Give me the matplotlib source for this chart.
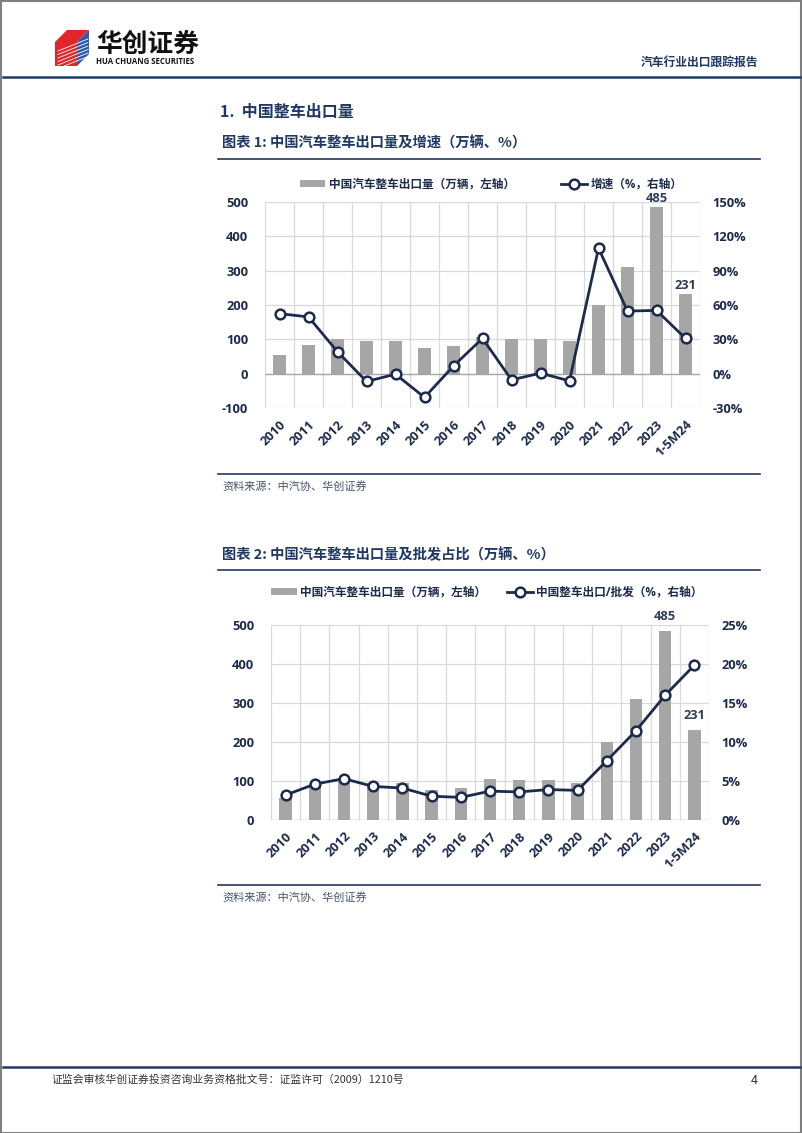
import numpy as np
import matplotlib
matplotlib.use("Agg")
import matplotlib.pyplot as plt
from matplotlib.patches import Polygon, Rectangle
from matplotlib.lines import Line2D

plt.rcParams['font.family'] = ['Open Sans', 'Noto Sans CJK SC', 'DejaVu Sans']
plt.rcParams['axes.unicode_minus'] = False

# data
categories = ['2010', '2011', '2012', '2013', '2014', '2015', '2016', '2017',
              '2018', '2019', '2020', '2021', '2022', '2023', '1-5M24']
exports = [56, 85, 100, 95, 95, 76, 81, 106, 102, 102, 95, 200, 311, 485, 231]
growth = [52.5, 49.6, 19.3, -6.6, -0.3, -20.5, 6.9, 30.9, -5.2, 0.6, -6.1,
          109.5, 54.7, 55.3, 30.9]
export_share = [3.2, 4.6, 5.3, 4.3, 4.1, 3.05, 2.9, 3.7, 3.6, 3.9, 3.8,
                7.6, 11.45, 16.0, 19.85]
labelled = ['2023', '1-5M24']

bar_label = '中国汽车整车出口量（万辆，左轴）'
line1_label = '增速（%，右轴）'
line2_label = '中国整车出口/批发（%，右轴）'

W, H = 802, 1133
NAVY = '#1C2B4B'
TITLE = '#1F3864'
BAR = '#A6A6A6'
GRID = '#D9D9D9'

fig = plt.figure(figsize=(W / 100, H / 100), dpi=100)


def box(l, t, r, b):
    return [l / W, 1 - b / H, (r - l) / W, (b - t) / H]


def fx(x):
    return x / W


def fy(y):
    return 1 - y / H


def page_text(x, y, s, **kw):
    kw.setdefault('family', ['Noto Sans CJK SC', 'DejaVu Sans'])
    fig.text(fx(x), fy(y), s, va='center', **kw)


def hline(x0, x1, y, color=TITLE, lw=1.2):
    fig.add_artist(Line2D([fx(x0), fx(x1)], [fy(y), fy(y)], color=color, lw=lw))


# page frame
fig.add_artist(Rectangle((0.5 / W, 0.5 / H), (W - 1.5) / W, (H - 1) / H, fill=False,
                         ec='#7F7F7F', lw=1.5, transform=fig.transFigure))

# header logo
fig.add_artist(Polygon([(fx(55), fy(42)), (fx(67), fy(30)), (fx(89), fy(30)), (fx(77), fy(42))],
                       closed=True, fc='#E0262B', ec='none'))
fig.add_artist(Polygon([(fx(55), fy(42)), (fx(77), fy(42)), (fx(77), fy(66)), (fx(55), fy(66))],
                       closed=True, fc='#E0262B', ec='none'))
fig.add_artist(Polygon([(fx(77), fy(42)), (fx(89), fy(30)), (fx(89), fy(54)), (fx(77), fy(66))],
                       closed=True, fc='#2B5BA8', ec='none'))
for k in range(6):
    y = 45 + k * 3.5
    fig.add_artist(Line2D([fx(58), fx(88)], [fy(y + 6), fy(y - 6)], color='white', lw=0.6))
page_text(96, 44, '华创证券', fontsize=18.5, weight='bold', color='#111111')
page_text(96, 62, 'HUA CHUANG SECURITIES', fontsize=5.6, weight='bold', color='#111111',
          family=['Open Sans', 'DejaVu Sans'])
page_text(758, 62, '汽车行业出口跟踪报告', fontsize=8.5, weight='bold', color=TITLE, ha='right')
hline(3, 800, 77, color=TITLE, lw=1.8)

# section and chart titles
page_text(220, 112, '1.  中国整车出口量', fontsize=11.5, weight='bold', color=TITLE)
page_text(222, 143, '图表 1: 中国汽车整车出口量及增速（万辆、%）', fontsize=10.3,
          weight='bold', color=TITLE)
hline(218, 760, 158.5)
hline(218, 760, 474)
page_text(222, 486, '资料来源：中汽协、华创证券', fontsize=8, color='#44546A')

page_text(222, 555, '图表 2: 中国汽车整车出口量及批发占比（万辆、%）', fontsize=10.3,
          weight='bold', color=TITLE)
hline(218, 760, 569.5)
hline(218, 760, 885)
page_text(222, 897, '资料来源：中汽协、华创证券', fontsize=8, color='#44546A')

# footer
hline(3, 800, 1067, color=TITLE, lw=1.8)
page_text(51, 1080, '证监会审核华创证券投资咨询业务资格批文号：证监许可（2009）1210号',
          fontsize=7.8, color='#333333')
page_text(758, 1080, '4', fontsize=9, color='#333333', ha='right')

TICK_FS = 9.3


def draw_chart(rect, ylim, yticks, y2lim, y2ticks, line_vals, line_label,
               legend_xy, colspace, ann_off):
    ax = fig.add_axes(box(*rect))
    x = np.arange(len(categories))
    ax.bar(x, exports, width=0.42, color=BAR, zorder=2)
    ax.set_xlim(-0.5, len(categories) - 0.5)
    ax.set_ylim(*ylim)
    ax.set_yticks(yticks)
    ax.set_yticklabels([f'{v:.0f}' for v in yticks])
    for v in yticks:
        if v != 0:
            ax.axhline(v, color=GRID, lw=0.9, zorder=0)
    for b in np.arange(-0.5, len(categories), 1.0):
        ax.axvline(b, color=GRID, lw=0.9, zorder=0)
    ax.axhline(0, color='#A6A6A6', lw=1.0, zorder=3)
    for s in ax.spines.values():
        s.set_visible(False)
    ax.set_xticks(x)
    ax.set_xticklabels(categories, rotation=45, ha='right', rotation_mode='anchor')
    ax.tick_params(length=0, colors=NAVY, labelsize=TICK_FS)
    ax.tick_params(axis='y', pad=12)
    ax.tick_params(axis='x', pad=7)
    for t in ax.get_xticklabels() + ax.get_yticklabels():
        t.set_fontweight('bold')
    for cat in labelled:
        i = categories.index(cat)
        ax.annotate(f'{exports[i]}', (i, exports[i]), xytext=(0, ann_off),
                    textcoords='offset points', ha='center', va='bottom',
                    fontsize=TICK_FS, fontweight='bold', color='#2F3B55')

    ax2 = ax.twinx()
    ax2.plot(x, line_vals, color=NAVY, lw=2.0, marker='o', ms=7, mfc='white',
             mec=NAVY, mew=1.8, zorder=4)
    ax2.set_ylim(*y2lim)
    ax2.set_yticks(y2ticks)
    ax2.set_yticklabels([f'{v:.0f}%' for v in y2ticks])
    for s in ax2.spines.values():
        s.set_visible(False)
    ax2.tick_params(length=0, colors=NAVY, labelsize=TICK_FS, pad=9)
    for t in ax2.get_yticklabels():
        t.set_fontweight('bold')

    handles = [Rectangle((0, 0), 1, 1, fc=BAR, ec='none'),
               Line2D([], [], color=NAVY, lw=2.0, marker='o', ms=7, mfc='white',
                      mec=NAVY, mew=1.8)]
    fig.legend(handles, [bar_label, line_label], ncol=2, loc='center',
               bbox_to_anchor=(fx(legend_xy[0]), fy(legend_xy[1])), frameon=False,
               prop={'size': 8.4, 'weight': 'bold'}, labelcolor=NAVY,
               handlelength=2.2, handletextpad=0.3, columnspacing=colspace,
               borderpad=0, handleheight=0.6)
    return ax, ax2


draw_chart((265, 201.7, 700, 408.3), (-100, 500), [-100, 0, 100, 200, 300, 400, 500],
           (-30, 150), [-30, 0, 30, 60, 90, 120, 150], growth, line1_label,
           (491, 184), 4.0, 1.5)

draw_chart((271, 625, 709, 820), (0, 500), [0, 100, 200, 300, 400, 500],
           (0, 25), [0, 5, 10, 15, 20, 25], export_share, line2_label,
           (487, 592), 1.8, 6)

fig.savefig('out.png', dpi=100)
